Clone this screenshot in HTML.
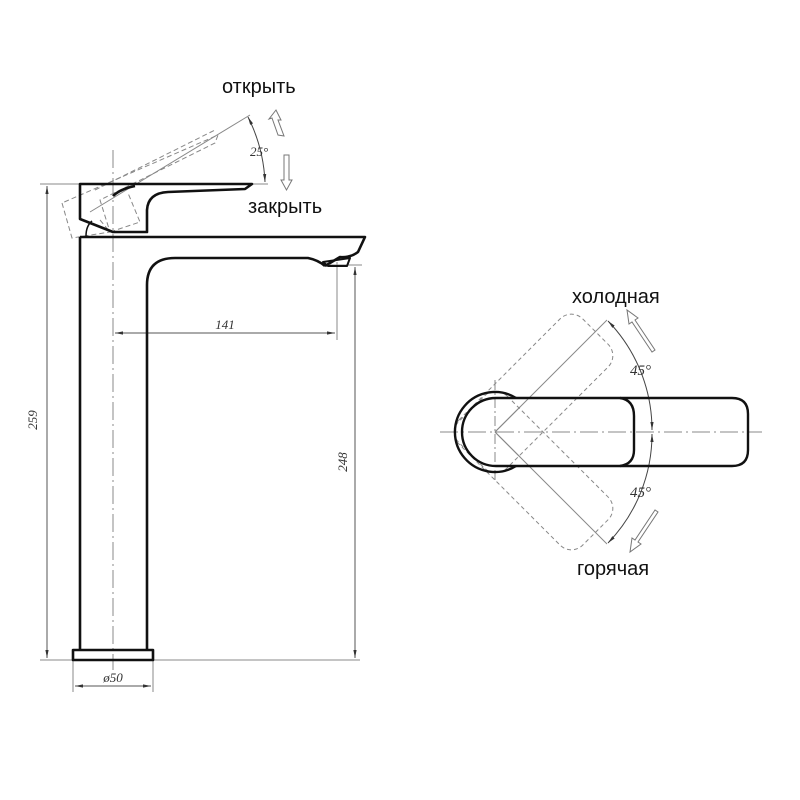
<!DOCTYPE html>
<html><head><meta charset="utf-8"><style>
html,body{margin:0;padding:0;background:#fff;width:800px;height:800px;overflow:hidden}
svg{display:block}
.t{font-family:"Liberation Sans","DejaVu Sans",sans-serif;font-size:20px;fill:#111}
.d{font-family:"Liberation Serif",serif;font-size:13px;font-style:italic;fill:#333}
</style></head><body>
<svg width="800" height="800" viewBox="0 0 800 800" xmlns="http://www.w3.org/2000/svg">
<defs>
<marker id="a" viewBox="0 0 10 10" refX="10" refY="5" markerWidth="8" markerHeight="8" orient="auto-start-reverse"><path d="M0,3 L10,5 L0,7z" fill="#333"/></marker>
</defs>
<g fill="none" stroke="#888" stroke-width="1">
<line x1="40" y1="184" x2="80" y2="184"/>
<line x1="40" y1="660" x2="360" y2="660"/>
<line x1="47" y1="186" x2="47" y2="658" stroke="#555" marker-start="url(#a)" marker-end="url(#a)"/>
<line x1="330" y1="265" x2="362" y2="265"/>
<line x1="355" y1="267" x2="355" y2="658" stroke="#555" marker-start="url(#a)" marker-end="url(#a)"/>
<line x1="337" y1="262" x2="337" y2="340"/>
<line x1="115" y1="333" x2="335" y2="333" stroke="#555" marker-start="url(#a)" marker-end="url(#a)"/>
<line x1="73" y1="660" x2="73" y2="692"/>
<line x1="153" y1="660" x2="153" y2="692"/>
<line x1="75" y1="686" x2="151" y2="686" stroke="#555" marker-start="url(#a)" marker-end="url(#a)"/>
<line x1="113" y1="150" x2="113" y2="670" stroke-dasharray="18,4,2,4"/>
<g stroke-dasharray="5,3">
<path d="M62,203 L72,238 L110,232 L100,200 L215,143 L218,135 Z"/>
<path d="M100,220 L110,232 L140,222 L128,193"/>
<path d="M95,190 L215,130"/>
</g>
<line x1="90" y1="212" x2="250" y2="115"/>
<path d="M248,117 A160,160 0 0 1 265,182" stroke="#444" marker-start="url(#a)" marker-end="url(#a)"/>
<line x1="250" y1="184" x2="268" y2="184"/>
</g>
<text class="d" x="250" y="156">25°</text>
<g fill="#fff" stroke="#777" stroke-width="1">
<path d="M278,135 L272,118 L269,119 L276,110 L281,120 L278,120 L284,136 Z"/>
<path d="M284,155 L289,155 L289,180 L292,180 L286.5,190 L281,180 L284,180 Z"/>
</g>
<text class="t" x="222" y="93">открыть</text>
<text class="t" x="248" y="213">закрыть</text>
<g fill="none" stroke="#111" stroke-width="2.6" stroke-linejoin="round">
<path d="M80,237 L80,650 M147,650 L147,285 Q147,258 175,258 L308,258 Q318,260 325,266"/>
<path d="M80,237 L365,237 L358,252 Q350,258 340,257 L325,266"/>
<path d="M323,262 L350,258 L347,266 L328,266 Z" stroke-width="2"/>
<rect x="73" y="650" width="80" height="10"/>
<path d="M80,184 L80,219 L113,232 L147,232 L147,210 Q148,193 168,192 L245,189 L252,184 Z"/>
<path d="M113,196 Q120,189 135,186"/>
<path d="M86,236 Q86,226 92,221" stroke-width="1.5"/>
</g>
<text class="d" transform="translate(37,420) rotate(-90)" text-anchor="middle">259</text>
<text class="d" transform="translate(347,462) rotate(-90)" text-anchor="middle">248</text>
<text class="d" x="225" y="329" text-anchor="middle">141</text>
<text class="d" x="113" y="682" text-anchor="middle">ø50</text>

<g fill="none" stroke="#888" stroke-width="1">
<line x1="440" y1="432" x2="762" y2="432" stroke-dasharray="18,4,2,4"/>
<line x1="495" y1="380" x2="495" y2="480" stroke-dasharray="10,3,2,3"/>
<g stroke-dasharray="4,3">
<rect x="462" y="398" width="175" height="68" rx="16" transform="rotate(-45 495 432)"/>
<rect x="462" y="398" width="175" height="68" rx="16" transform="rotate(45 495 432)"/>
</g>
<line x1="495" y1="432" x2="607" y2="320"/>
<line x1="495" y1="432" x2="607" y2="544"/>
<line x1="495" y1="432" x2="520" y2="407"/>
<line x1="495" y1="432" x2="520" y2="457"/>
<path d="M608,321 A157,157 0 0 1 652,430" stroke="#444" marker-start="url(#a)" marker-end="url(#a)"/>
<path d="M652,434 A157,157 0 0 1 608,543" stroke="#444" marker-start="url(#a)" marker-end="url(#a)"/>
</g>
<g fill="none" stroke="#111" stroke-width="2.4">
<path d="M516,398 A40,40 0 1 0 516,466"/>
<path d="M496,398 L732,398 Q748,398 748,414 L748,450 Q748,466 732,466 L496,466 A34,34 0 0 1 496,398 Z"/>
<path d="M620,398 Q634,400 634,416 L634,450 Q634,464 620,466"/>
</g>
<text class="d" x="630" y="375" style="font-size:15px">45°</text>
<text class="d" x="630" y="497" style="font-size:15px">45°</text>
<g fill="#fff" stroke="#777" stroke-width="1">
<path d="M652,352 L632,322 L629,324 L627,310 L638,318 L635,320 L655,350 Z"/>
<path d="M655,510 L635,540 L632,538 L630,552 L641,544 L638,542 L658,512 Z"/>
</g>
<text class="t" x="572" y="303">холодная</text>
<text class="t" x="577" y="575">горячая</text>
</svg>
</body></html>
